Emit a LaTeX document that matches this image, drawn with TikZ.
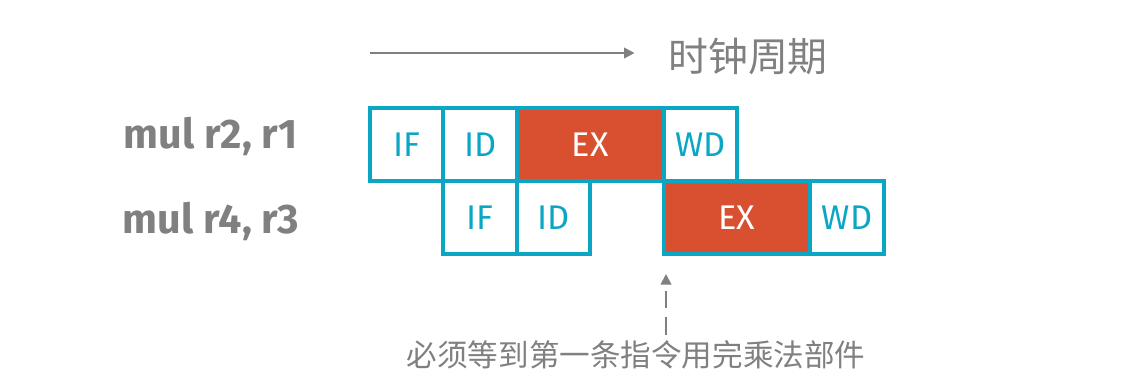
\documentclass[tikz,border=0pt]{standalone}
\usepackage{fontspec}
\setmainfont{Fira Sans}
\newfontfamily\cjk{Noto Sans CJK SC}
\usetikzlibrary{arrows.meta,positioning}
\definecolor{pipeteal}{HTML}{0AA6C4}
\definecolor{exred}{HTML}{D8502F}
\definecolor{notegray}{HTML}{808080}

\begin{document}
\begin{tikzpicture}[x=0.02cm,y=-0.02cm,
  stage/.style={draw=pipeteal,line width=2.3pt,outer sep=0pt,inner sep=0pt,
    minimum width=1.468cm,minimum height=1.46cm,text=pipeteal,
    font=\fontsize{19.5}{19.5}\selectfont},
  exstage/.style={stage,fill=exred,text=white,minimum width=2.936cm},
  instr/.style={text=notegray,font=\bfseries\fontsize{23.5}{23.5}\selectfont},
  gray arrow/.style={draw=notegray,line width=1.2pt,-{Triangle[length=6pt,width=6pt]}}]
  \useasboundingbox (0,0) rectangle (1142,387);

  % first instruction
  \node[stage] (if1) at (406.7,144.8) {IF};
  \node[stage,right=0pt of if1] (id1) {ID};
  \node[exstage,right=0pt of id1] (ex1) {EX};
  \node[stage,right=0pt of ex1] (wd1) {WD};
  % second instruction, stalled
  \node[stage,below=0pt of id1] (if2) {IF};
  \node[stage,right=0pt of if2] (id2) {ID};
  \node[exstage,below right=0pt of wd1.south west] (ex2) {EX};
  \node[stage,right=0pt of ex2] (wd2) {WD};

  \node[instr] (mul1) at (211,136) {mul r2, r1};
  \node[instr] (mul2) at (211,221) {mul r4, r3};

  % clock axis
  \coordinate (clkstart) at (370,53);
  \node[text=notegray,font=\cjk\fontsize{22.7}{22.7}\selectfont] (clock) at (748,56) {时钟周期};
  \draw[gray arrow] (clkstart) -- ([xshift=-0.55cm]clock.west |- clkstart);

  % waiting note
  \coordinate (wait) at (666,274);
  \node[text=notegray,font=\cjk\fontsize{17.4}{17.4}\selectfont] (note) at (636,355) {必须等到第一条指令用完乘法部件};
  \draw[gray arrow,dash pattern=on 10pt off 5pt] (note.north -| wait) -- (wait);
\end{tikzpicture}
\end{document}
